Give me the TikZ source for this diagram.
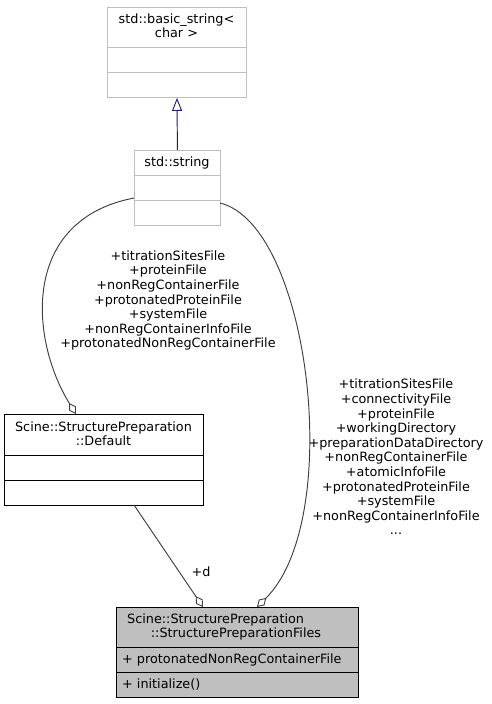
\documentclass[tikz,border=0pt]{standalone}
\usepackage{fontspec}
\setmainfont{DejaVu Sans}
\usetikzlibrary{arrows.meta}
\definecolor{bgray}{HTML}{BFBFBF}
\definecolor{edgec}{HTML}{404040}
\definecolor{navyc}{HTML}{191970}
\begin{document}
\begin{tikzpicture}[x=1pt,y=-1pt,
  compart/.style={rectangle, draw, inner sep=0pt, anchor=north west, line width=0.9pt},
  lbl/.style={font=\fontsize{12.8}{14.6}\selectfont, align=center, inner sep=0pt},
  txt/.style={font=\fontsize{12.8}{13.6}\selectfont, inner sep=0pt},
  agg/.style={draw=edgec, line width=0.95pt, -{Diamond[open, length=13pt, width=8pt, line width=0.9pt]}},
  inh/.style={draw=navyc, line width=0.95pt, -{Triangle[open, length=13pt, width=10pt, line width=0.9pt]}}
]
\useasboundingbox (0,0) rectangle (491,704);

% std::basic_string<char>
\node[compart, draw=bgray, minimum width=139pt, minimum height=40pt] (bsT) at (107,7) {};
\node[compart, draw=bgray, minimum width=139pt, minimum height=25pt] (bsA) at (107,47) {};
\node[compart, draw=bgray, minimum width=139pt, minimum height=25pt] (bsM) at (107,72) {};
\node[txt, align=center] (bsL) at (176.5,25.5) {std::basic\_string<\\char >};

% std::string
\node[compart, draw=bgray, minimum width=86pt, minimum height=25pt] (ssT) at (134,150) {};
\node[compart, draw=bgray, minimum width=86pt, minimum height=25pt] (ssA) at (134,175) {};
\node[compart, draw=bgray, minimum width=86pt, minimum height=25pt] (ssM) at (134,200) {};
\node[txt] (ssL) at (177,162.5) {std::string};

% Default
\node[compart, draw=black, minimum width=199pt, minimum height=41pt] (dfT) at (4,414) {};
\node[compart, draw=black, minimum width=199pt, minimum height=25pt] (dfA) at (4,455) {};
\node[compart, draw=black, minimum width=199pt, minimum height=25pt] (dfM) at (4,480) {};
\node[txt, align=center] (dfL) at (103.5,433.5) {Scine::StructurePreparation\\::Default};

% StructurePreparationFiles
\node[compart, draw=black, fill=bgray, minimum width=242pt, minimum height=40pt] (spT) at (116,607) {};
\node[compart, draw=black, fill=bgray, minimum width=242pt, minimum height=25pt] (spA) at (116,647) {};
\node[compart, draw=black, fill=bgray, minimum width=242pt, minimum height=25pt] (spM) at (116,672) {};
\node[txt, anchor=west] (spL1) at (127,620) {Scine::StructurePreparation};
\node[txt] (spL2) at (236,633.5) {::StructurePreparationFiles};
\node[txt, anchor=west] (spAt) at (122,660) {+ protonatedNonRegContainerFile};
\node[txt, anchor=west] (spMt) at (122,684) {+ initialize()};

% inheritance
\draw[inh] (ssT.north) -- (bsM.south);

% aggregation edges
\coordinate (e1s) at (134,198);
\coordinate (e2s) at (220,203);
\coordinate (e3s) at (134,505);
\draw[agg] (e1s) .. controls (20,220) and (30,340) .. (76,414);
\draw[agg] (e2s) .. controls (310,225) and (345,520) .. (257,607);
\draw[agg] (e3s) -- (203,607);

% labels
\node[lbl] (l1) at (168,300.5) {+titrationSitesFile\\+proteinFile\\+nonRegContainerFile\\+protonatedProteinFile\\+systemFile\\+nonRegContainerInfoFile\\+protonatedNonRegContainerFile};
\node[lbl] (l2) at (396,457) {+titrationSitesFile\\+connectivityFile\\+proteinFile\\+workingDirectory\\+preparationDataDirectory\\+nonRegContainerFile\\+atomicInfoFile\\+protonatedProteinFile\\+systemFile\\+nonRegContainerInfoFile\\...};
\node[lbl] (l3) at (201,572) {+d};
\end{tikzpicture}
\end{document}
